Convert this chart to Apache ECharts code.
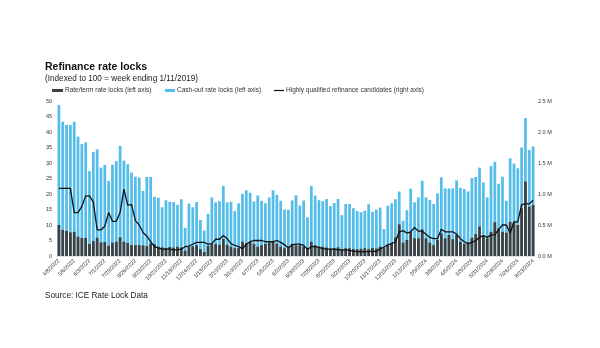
<!DOCTYPE html>
<html><head><meta charset="utf-8">
<script src="https://cdn.jsdelivr.net/npm/echarts@6/dist/echarts.min.js"></script>
<style>html,body{margin:0;padding:0;background:#fff}#c{width:600px;height:348px}</style>
</head><body><div id="c"></div>
<script>
// Weekly dates, 4/8/2022 .. 8/23/2024 (125 weeks)
const startDate = [2022, 3, 8];
const weekCount = 125;
const categories = [];
for (let i = 0; i < weekCount; i++) {
  const d = new Date(Date.UTC(startDate[0], startDate[1], startDate[2] + 7 * i));
  categories.push((d.getUTCMonth() + 1) + '/' + d.getUTCDate() + '/' + d.getUTCFullYear());
}
// Cash-out rate locks (left axis) - bar top as read
const cashOut = [48.7,43.3,42.3,42.3,43.3,38.5,36.1,36.7,27.4,33.5,34.4,28.5,29.4,24.2,29.4,30.6,35.5,30.8,29.6,26.9,
25.6,25.3,21.0,25.5,25.5,19.1,18.8,15.7,18.0,17.5,17.4,16.5,18.3,9.1,16.9,15.7,17.4,11.6,8.2,13.6,
18.9,17.3,17.7,22.6,17.3,17.5,14.5,17.0,20.1,21.2,20.4,17.6,19.5,17.8,17.0,18.9,21.2,19.7,17.8,15.0,
14.9,17.9,19.6,16.3,17.9,12.5,22.6,19.5,18.0,17.7,18.4,16.1,17.1,18.4,13.2,16.8,16.8,15.4,14.5,14.1,
14.6,16.7,14.3,15.0,15.6,8.7,16.2,17.0,18.3,20.8,11.4,14.8,21.7,17.3,18.9,24.3,18.9,18.1,16.8,20.2,
25.4,21.8,21.8,21.8,24.4,22.0,21.6,20.8,25.1,25.5,28.5,23.7,18.9,29.0,30.4,23.3,25.6,17.8,31.5,29.8,
28.3,35.0,44.5,34.2,35.3];
// Rate/term rate locks (left axis)
const rateTerm = [10.0,8.4,8.1,7.6,7.8,6.2,5.8,5.8,3.9,4.8,5.9,4.4,4.5,3.3,4.3,4.6,6.0,4.6,4.2,3.5,
3.5,3.5,3.4,3.2,4.0,3.8,3.0,2.8,2.6,2.9,2.7,3.0,2.8,1.7,3.0,3.1,3.5,2.2,1.3,3.3,
3.8,3.9,3.6,5.5,3.6,3.0,2.5,2.6,4.6,4.1,4.5,3.9,3.0,3.5,3.9,4.3,4.6,4.0,3.0,2.5,
3.0,3.9,3.4,3.5,3.0,2.5,4.6,3.5,3.0,3.0,2.7,2.3,2.5,2.8,2.2,2.5,2.5,2.2,2.2,2.3,
2.5,2.2,2.6,2.4,3.0,2.5,3.5,4.1,6.0,10.2,4.3,5.2,7.8,5.7,5.7,8.6,5.7,4.3,3.5,5.2,
7.3,5.7,6.8,5.4,6.8,4.6,3.9,4.3,5.9,7.1,9.5,6.5,5.7,7.8,10.9,8.9,7.8,7.5,11.0,10.9,
10.0,15.4,24.0,15.9,16.5];
// Highly qualified refinance candidates (right axis, millions)
const candidates = [1.09,1.09,1.09,1.09,0.70,0.70,0.80,0.97,0.97,0.87,0.42,0.42,0.48,0.70,0.56,0.56,0.70,1.08,0.82,0.83,
0.57,0.50,0.38,0.32,0.23,0.15,0.13,0.11,0.11,0.11,0.10,0.10,0.11,0.15,0.16,0.19,0.22,0.22,0.22,0.19,
0.20,0.27,0.27,0.33,0.28,0.20,0.17,0.15,0.12,0.19,0.23,0.25,0.25,0.25,0.23,0.23,0.23,0.25,0.22,0.18,
0.13,0.18,0.19,0.19,0.17,0.11,0.15,0.15,0.14,0.12,0.11,0.11,0.11,0.10,0.10,0.10,0.09,0.08,0.07,0.07,
0.07,0.07,0.08,0.07,0.12,0.14,0.18,0.20,0.23,0.39,0.41,0.37,0.39,0.46,0.40,0.40,0.35,0.30,0.28,0.28,
0.43,0.39,0.39,0.39,0.35,0.28,0.23,0.20,0.22,0.25,0.30,0.33,0.30,0.34,0.34,0.43,0.50,0.50,0.37,0.55,
0.55,0.83,0.84,0.84,0.90];
const leftTicks = {min: 0, max: 50, interval: 5};
const rightTicks = {min: 0, max: 2.5, interval: 0.5};
const names = ['Rate/term rate locks (left axis)', 'Cash-out rate locks (left axis)', 'Highly qualified refinance candidates (right axis)'];

const FONT = '"Liberation Sans", Arial, sans-serif';
const chart = echarts.init(document.getElementById('c'), null, {renderer: 'canvas'});
const legendText = {fontSize: 6.5, color: '#333', fontFamily: FONT, padding: [0, 0, 0, -3]};
chart.setOption({
  animation: false,
  textStyle: {fontFamily: FONT},
  graphic: [
    {type: 'text', left: 45, top: 62, style: {text: 'Refinance rate locks', font: 'bold 10.5px ' + FONT, fill: '#111'}},
    {type: 'text', left: 45, top: 75, style: {text: '(Indexed to 100 = week ending 1/11/2019)', font: '8.2px ' + FONT, fill: '#222'}},
    {type: 'text', left: 45, top: 292, style: {text: 'Source: ICE Rate Lock Data', font: '8.2px ' + FONT, fill: '#222'}}
  ],
  legend: [
    {data: [names[0]], left: 52, top: 87, itemWidth: 11, itemHeight: 3, textStyle: legendText, icon: 'rect', padding: 0},
    {data: [names[1]], left: 165, top: 87, itemWidth: 10, itemHeight: 3, textStyle: legendText, icon: 'rect', padding: 0},
    {data: [names[2]], left: 274, top: 87, itemWidth: 10, itemHeight: 1.2, textStyle: legendText, icon: 'rect', padding: 0}
  ],
  grid: {left: 57, right: 65, top: 101, bottom: 92, containLabel: false},
  xAxis: {
    type: 'category', data: categories,
    axisLine: {show: true, lineStyle: {color: '#d0d0d0', width: 0.6}},
    axisTick: {show: false},
    axisLabel: {rotate: 45, fontSize: 5.5, color: '#333', margin: 4,
      interval: function (idx) { return idx % 4 === 0; }}
  },
  yAxis: [
    {type: 'value', min: leftTicks.min, max: leftTicks.max, interval: leftTicks.interval,
      axisLine: {show: false}, axisTick: {show: false}, splitLine: {show: false},
      axisLabel: {fontSize: 5.5, color: '#333', margin: 5}},
    {type: 'value', min: rightTicks.min, max: rightTicks.max, interval: rightTicks.interval, position: 'right',
      axisLine: {show: false}, axisTick: {show: false}, splitLine: {show: false},
      axisLabel: {fontSize: 5.5, color: '#333', margin: 3, formatter: function (v) { return v.toFixed(1) + ' M'; }}}
  ],
  series: [
    {name: names[1], type: 'bar', data: cashOut, barWidth: '72%', barGap: '-100%',
      itemStyle: {color: '#55bdea'}, z: 1},
    {name: names[0], type: 'bar', data: rateTerm, barWidth: '72%', barGap: '-100%',
      itemStyle: {color: '#3f3f3f'}, z: 2},
    {name: names[2], type: 'line', yAxisIndex: 1, data: candidates, showSymbol: false, symbol: 'none',
      lineStyle: {color: '#111', width: 1.3}, itemStyle: {color: '#111'}, z: 5}
  ]
});
</script></body></html>
